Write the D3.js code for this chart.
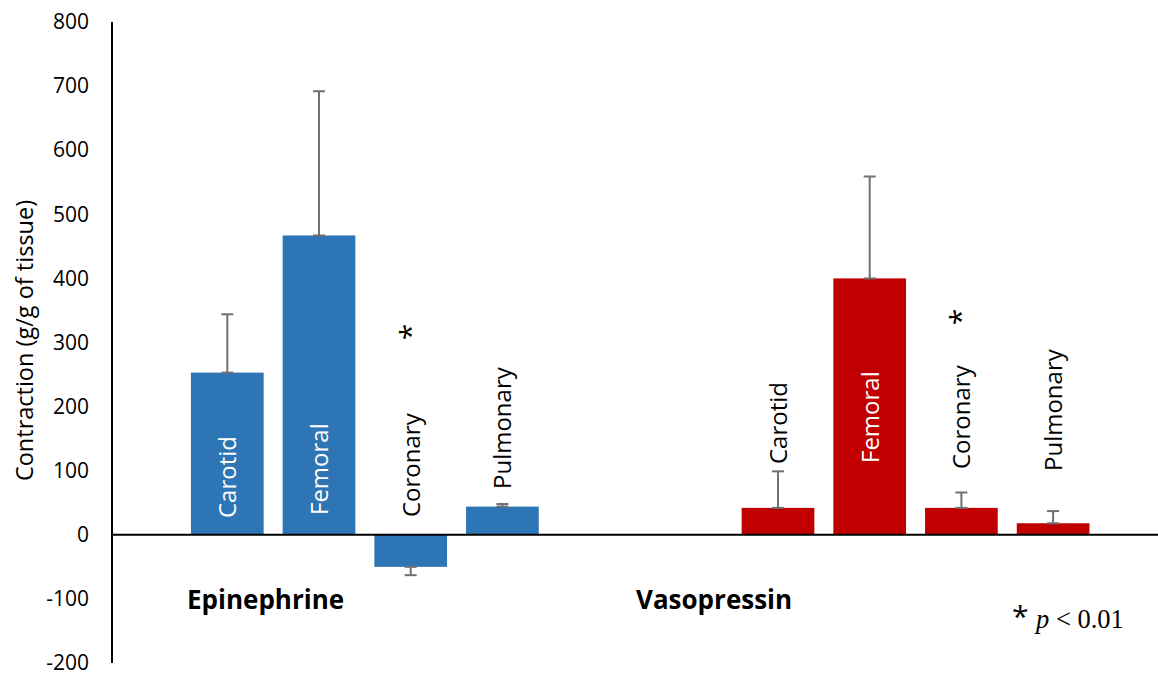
<!DOCTYPE html>
<html>
<head>
<meta charset="utf-8">
<script src="https://cdn.jsdelivr.net/npm/d3@7"></script>
<style>
  body { margin: 0; background: #fff; }
</style>
</head>
<body>
<svg class="canvas" width="1158" height="673" font-family="'Open Sans', sans-serif"></svg>
<script>
const groups = ['Epinephrine', 'Vasopressin'],
  organs = ['Carotid', 'Femoral', 'Coronary', 'Pulmonary'],
  epiValues = [253, 467, -50, 44],
  epiErrors = [91, 225, -13, 4],
  vasoValues = [42, 400, 42, 18],
  vasoErrors = [57, 159, 24, 19],
  yTicks = [-200, -100, 0, 100, 200, 300, 400, 500, 600, 700, 800],
  significant = ['Coronary'];

const colors = { Epinephrine: '#2e75b6', Vasopressin: '#c00000' },
  // label start (bottom of rotated text), hand-placed like the original
  labelStart = {
    Epinephrine: [518, 515, 517, 489],
    Vasopressin: [464, 463, 469, 471],
  },
  labelInside = { Epinephrine: [true, true, false, false], Vasopressin: [false, true, false, false] },
  starY = { Epinephrine: 332, Vasopressin: 317 };

const svg = d3.select('.canvas'),
  W = 1158,
  axisX = 112;

const y = d3.scaleLinear([-200, 800], [663, 22]);
const x0 = d3.scaleBand(groups, [89.5, 1190.9]);
const x1 = d3.scaleBand(organs, [-183.4, 183.4]).paddingInner(0.2073).paddingOuter(0.1036);

const rows = [];
groups.forEach((g, gi) => {
  const vals = gi === 0 ? epiValues : vasoValues,
    errs = gi === 0 ? epiErrors : vasoErrors;
  organs.forEach((o, i) => rows.push({ group: g, organ: o, i, value: vals[i], err: errs[i] }));
});
const cx = d => x0(d.group) + x0.bandwidth() / 2 + x1(d.organ) + x1.bandwidth() / 2;

// bars
svg.selectAll('.bar')
  .data(rows)
  .enter()
  .append('rect')
  .attr('class', 'bar')
  .attr('x', d => cx(d) - x1.bandwidth() / 2)
  .attr('width', x1.bandwidth())
  .attr('y', d => y(Math.max(0, d.value)))
  .attr('height', d => Math.abs(y(d.value) - y(0)))
  .attr('fill', d => colors[d.group]);

// error bars (one direction, cap at both ends)
const eb = svg.selectAll('.err').data(rows).enter().append('g')
  .attr('class', 'err')
  .attr('stroke', '#707070')
  .attr('stroke-width', 2);
eb.append('line')
  .attr('x1', cx).attr('x2', cx)
  .attr('y1', d => y(d.value)).attr('y2', d => y(d.value + d.err));
eb.append('line')
  .attr('x1', d => cx(d) - 6).attr('x2', d => cx(d) + 6)
  .attr('y1', d => y(d.value + d.err)).attr('y2', d => y(d.value + d.err));
eb.append('line')
  .attr('x1', d => cx(d) - 6).attr('x2', d => cx(d) + 6)
  .attr('y1', d => y(d.value)).attr('y2', d => y(d.value));

// y axis
const yAxis = d3.axisLeft(y).tickValues(yTicks).tickSize(0).tickPadding(23).tickFormat(d => String(d));
const ga = svg.append('g')
  .attr('transform', `translate(${axisX},0)`)
  .call(yAxis);
ga.select('.domain').remove();
ga.attr('font-family', null).attr('font-size', 21);
ga.selectAll('text').attr('fill', '#000');
svg.append('line')
  .attr('x1', axisX).attr('x2', axisX)
  .attr('y1', y(800)).attr('y2', y(-200))
  .attr('stroke', '#000').attr('stroke-width', 2);
svg.append('line')
  .attr('x1', axisX).attr('x2', W)
  .attr('y1', y(0)).attr('y2', y(0))
  .attr('stroke', '#000').attr('stroke-width', 2);

svg.append('text')
  .attr('transform', `translate(33,${(y(800) + y(-200)) / 2 - 2}) rotate(-90)`)
  .attr('text-anchor', 'middle')
  .attr('font-size', 23.5)
  .text('Contraction (g/g of tissue)');

// rotated organ labels
svg.selectAll('.lbl')
  .data(rows)
  .enter()
  .append('text')
  .attr('class', 'lbl')
  .attr('transform', d => `translate(${cx(d) + 9},${labelStart[d.group][d.i]}) rotate(-90)`)
  .attr('font-size', 24)
  .attr('fill', d => (labelInside[d.group][d.i] ? '#fff' : '#000'))
  .text(d => d.organ);

// significance stars
svg.selectAll('.star')
  .data(rows.filter(d => significant.includes(d.organ)))
  .enter()
  .append('text')
  .attr('class', 'star')
  .attr('transform', d => `translate(${cx(d) + 10},${starY[d.group]}) rotate(-90)`)
  .attr('text-anchor', 'middle')
  .attr('font-size', 30)
  .text('*');

// group labels
svg.selectAll('.grp')
  .data(groups)
  .enter()
  .append('text')
  .attr('class', 'grp')
  .attr('x', (d, i) => (i === 0 ? 187 : 636))
  .attr('y', 609)
  .attr('font-size', 26)
  .attr('font-weight', 'bold')
  .text(d => d);

// p-value note
svg.append('text')
  .attr('x', 1012).attr('y', 627)
  .attr('font-size', 30)
  .text('*');
const note = svg.append('text')
  .attr('x', 1036).attr('y', 628)
  .attr('font-family', "'Liberation Serif', serif")
  .attr('font-size', 26.5);
note.append('tspan').attr('font-style', 'italic').text('p');
note.append('tspan').text(' < 0.01');
</script>
</body>
</html>
